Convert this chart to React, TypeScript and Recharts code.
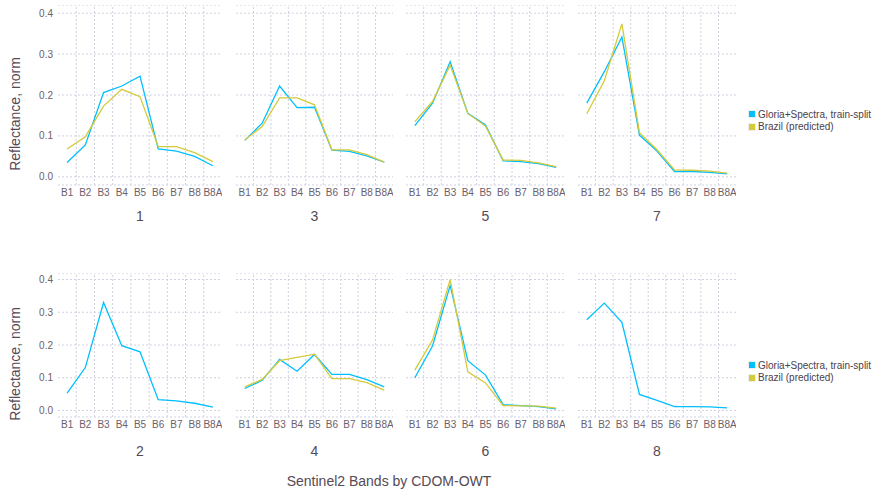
import { CartesianGrid, Line, LineChart, ReferenceLine, XAxis, YAxis } from "recharts";

const bands = ["B1", "B2", "B3", "B4", "B5", "B6", "B7", "B8", "B8A"];
const yTicks = [0, 0.1, 0.2, 0.3, 0.4];

// reflectance per CDOM-OWT class, B1..B8A
const gloria1 = [0.035, 0.078, 0.206, 0.222, 0.246, 0.068, 0.063, 0.05, 0.027];
const brazil1 = [0.068, 0.098, 0.173, 0.214, 0.196, 0.074, 0.074, 0.059, 0.037];
const gloria2 = [0.053, 0.131, 0.33, 0.198, 0.179, 0.033, 0.029, 0.022, 0.01];
const gloria3 = [0.089, 0.131, 0.222, 0.169, 0.17, 0.065, 0.062, 0.051, 0.036];
const brazil3 = [0.09, 0.123, 0.193, 0.193, 0.176, 0.066, 0.066, 0.054, 0.036];
const gloria4 = [0.067, 0.092, 0.156, 0.12, 0.171, 0.11, 0.11, 0.094, 0.072];
const brazil4 = [0.072, 0.095, 0.152, 0.162, 0.172, 0.097, 0.097, 0.085, 0.062];
const gloria5 = [0.125, 0.18, 0.281, 0.155, 0.127, 0.039, 0.037, 0.032, 0.023];
const brazil5 = [0.135, 0.184, 0.273, 0.155, 0.124, 0.041, 0.04, 0.034, 0.025];
const gloria6 = [0.1, 0.197, 0.382, 0.152, 0.108, 0.018, 0.015, 0.012, 0.005];
const brazil6 = [0.123, 0.215, 0.4, 0.118, 0.084, 0.015, 0.014, 0.013, 0.007];
const gloria7 = [0.18, 0.257, 0.342, 0.102, 0.063, 0.013, 0.013, 0.011, 0.007];
const brazil7 = [0.154, 0.235, 0.374, 0.108, 0.066, 0.017, 0.016, 0.014, 0.009];
const gloria8 = [0.277, 0.328, 0.269, 0.049, 0.031, 0.012, 0.012, 0.011, 0.008];

const seriesNames = ["Gloria+Spectra, train-split", "Brazil (predicted)"];
const colors = ["#00BFFF", "#D4CA3A"];

const panelRows = [
  [
    { label: "1", gloria: gloria1, brazil: brazil1 },
    { label: "3", gloria: gloria3, brazil: brazil3 },
    { label: "5", gloria: gloria5, brazil: brazil5 },
    { label: "7", gloria: gloria7, brazil: brazil7 }
  ],
  [
    { label: "2", gloria: gloria2, brazil: null },
    { label: "4", gloria: gloria4, brazil: brazil4 },
    { label: "6", gloria: gloria6, brazil: brazil6 },
    { label: "8", gloria: gloria8, brazil: null }
  ]
];

const cols = [
  { left: 58, width: 164 },
  { left: 236, width: 157 },
  { left: 406, width: 159 },
  { left: 578, width: 158 }
];
const rows = [
  { top: 5, height: 180, labelY: 216, titleY: 114, legendY: 114 },
  { top: 273, height: 144, labelY: 451, titleY: 364, legendY: 365 }
];

const FONT = '"Liberation Sans", Arial, sans-serif';
const AXIS_W = 58;
const XAXIS_H = 20;
const gridMids = bands.slice(1).map((_, i) => i + 1.5);

const Panel = ({ gloria, brazil, first, width, height }: any) => {
  const data = bands.map((b, i) => ({
    x: i + 1,
    gloria: gloria[i],
    brazil: brazil ? brazil[i] : null
  }));
  return (
    <LineChart width={width} height={height} data={data} margin={{ top: 0, right: 0, bottom: 0, left: 0 }}>
      <CartesianGrid stroke="#D0D0E0" strokeDasharray="2 2" vertical={false} />
      {gridMids.map((m) => (
        <ReferenceLine key={m} x={m} stroke="#D0D0E0" strokeDasharray="2 2" />
      ))}
      <XAxis
        dataKey="x"
        type="number"
        domain={[0.5, 9.5]}
        ticks={bands.map((_, i) => i + 1)}
        tickFormatter={(v: number) => bands[v - 1]}
        interval={0}
        height={XAXIS_H}
        axisLine={false}
        tickLine={false}
        tickSize={0}
        tickMargin={4}
        tick={{ fill: "#6C606B", fontSize: 10, fontFamily: FONT }}
      />
      <YAxis
        type="number"
        domain={[-0.02, 0.42]}
        ticks={yTicks}
        allowDataOverflow
        hide={!first}
        width={first ? AXIS_W : 0}
        axisLine={false}
        tickLine={false}
        tickSize={0}
        tickMargin={5}
        tickFormatter={(v: number) => v.toFixed(1)}
        tick={{ fill: "#6C606B", fontSize: 10, fontFamily: FONT }}
      />
      <Line dataKey="gloria" type="linear" stroke={colors[0]} strokeWidth={1.3} dot={false} isAnimationActive={false} />
      {brazil && (
        <Line dataKey="brazil" type="linear" stroke={colors[1]} strokeWidth={1.3} dot={false} isAnimationActive={false} />
      )}
    </LineChart>
  );
};

export default function App() {
  return (
    <div style={{ position: "absolute", left: 0, top: 0, width: 872, height: 494, background: "#fff", fontFamily: FONT }}>
      {panelRows.map((row, r) => (
        <div key={r}>
          {row.map((p, c) => {
            const col = cols[c];
            const first = c === 0;
            const left = first ? col.left - AXIS_W : col.left;
            return (
              <div key={p.label}>
                <div style={{ position: "absolute", left, top: rows[r].top }}>
                  <Panel
                    gloria={p.gloria}
                    brazil={p.brazil}
                    first={first}
                    width={(first ? AXIS_W : 0) + col.width}
                    height={rows[r].height + XAXIS_H}
                  />
                </div>
                <div
                  style={{
                    position: "absolute",
                    left: col.left + col.width / 2,
                    top: rows[r].labelY,
                    transform: "translate(-50%, -50%)",
                    fontSize: 14,
                    color: "#564A55"
                  }}
                >
                  {p.label}
                </div>
              </div>
            );
          })}
          <div
            style={{
              position: "absolute",
              left: 15,
              top: rows[r].titleY,
              transform: "translate(-50%, -50%) rotate(-90deg)",
              fontSize: 14,
              color: "#564A55",
              whiteSpace: "nowrap"
            }}
          >
            Reflectance, norm
          </div>
          {seriesNames.map((name, i) => (
            <div
              key={name}
              style={{
                position: "absolute",
                left: 748,
                top: rows[r].legendY + i * 12.5 - 6,
                height: 12,
                display: "flex",
                alignItems: "center",
                fontSize: 10,
                color: "#4C404B",
                whiteSpace: "nowrap"
              }}
            >
              <span style={{ width: 6, height: 6, background: colors[i], border: "1px solid #eee", marginRight: 2 }} />
              {name}
            </div>
          ))}
        </div>
      ))}
      <div
        style={{
          position: "absolute",
          left: 389,
          top: 481,
          transform: "translate(-50%, -50%)",
          fontSize: 14,
          color: "#564A55",
          whiteSpace: "nowrap"
        }}
      >
        Sentinel2 Bands by CDOM-OWT
      </div>
    </div>
  );
}
